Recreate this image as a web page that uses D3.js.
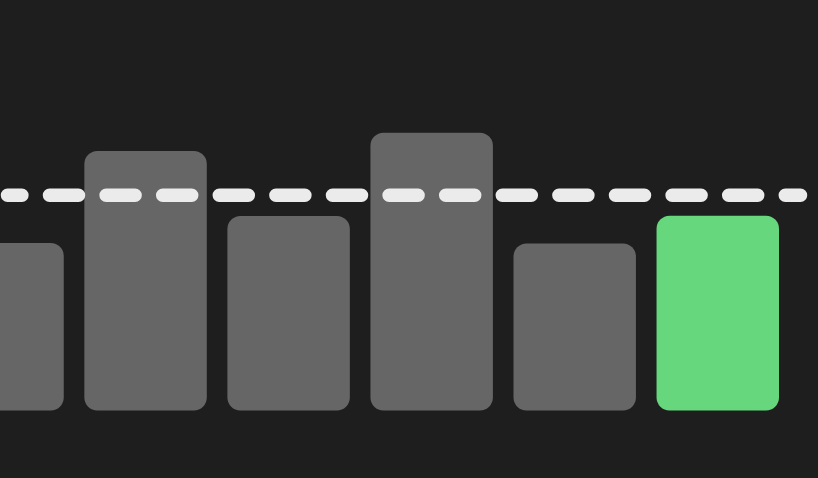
<!DOCTYPE html>
<html>
<head>
<meta charset="utf-8">
<script src="https://cdn.jsdelivr.net/npm/d3@7"></script>
<style>
  html, body { margin: 0; padding: 0; background: #1e1e1e; }
  svg { display: block; }
</style>
</head>
<body>
<div id="grafico"></div>
<script>
const categories = ["A", "B", "C", "D", "E", "F"];
const values = [6.03, 9.34, 7.0, 10.0, 6.01, 7.01];
const highlight = ["F"];
const target = [7.75];

const width = 818;
const height = 478;
const baseline = 410.5;

const svg = d3.select("#grafico")
              .append("svg")
              .attr("width", width)
              .attr("height", height);

svg.append("rect")
   .attr("width", width)
   .attr("height", height)
   .attr("fill", "#1e1e1e");

const xScale = d3.scaleBand()
                 .domain(categories)
                 .range([-58.7, 779])
                 .paddingInner(0.144)
                 .paddingOuter(0);

const yScale = d3.scaleLinear()
                 .domain([0, 10])
                 .range([baseline, 132.7]);

const data = categories.map((c, i) => ({ nome: c, nota: values[i] }));

svg.selectAll("rect.bar")
   .data(data)
   .join("rect")
   .attr("class", "bar")
   .attr("x", d => xScale(d.nome))
   .attr("y", d => yScale(d.nota))
   .attr("width", xScale.bandwidth())
   .attr("height", d => baseline - yScale(d.nota))
   .attr("rx", 13)
   .attr("ry", 13)
   .attr("fill", d => highlight.includes(d.nome) ? "#66d77c" : "#666666");

// target line, dashed with round caps
svg.append("line")
   .attr("x1", 7.5)
   .attr("x2", width - 17.5)
   .attr("y1", yScale(target[0]))
   .attr("y2", yScale(target[0]))
   .attr("stroke", "#ebebeb")
   .attr("stroke-width", 13.5)
   .attr("stroke-linecap", "round")
   .attr("stroke-dasharray", "29 27.6")
   .attr("stroke-dashoffset", 14.6);
</script>
</body>
</html>
